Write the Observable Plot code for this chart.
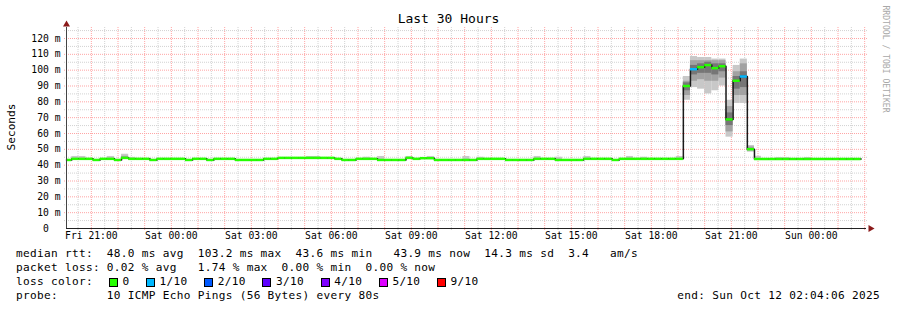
<!DOCTYPE html>
<html><head><meta charset="utf-8">
<script src="https://cdn.jsdelivr.net/npm/d3@7"></script>
<script src="https://cdn.jsdelivr.net/npm/@observablehq/plot@0.6"></script>
<style>
html,body{margin:0;padding:0;background:#fff;}
#wrap{position:relative;width:897px;height:310px;overflow:hidden;font-family:"DejaVu Sans Mono",monospace;color:#000;background:#fff;}
#wrap svg{position:absolute;left:0;top:0;}
.t{position:absolute;white-space:pre;}
.row{font-size:11.1px;letter-spacing:0.31px;line-height:14px;}
.box{position:absolute;width:7px;height:7px;border:1px solid #000;}
</style></head><body><div id="wrap"></div>
<script>
// ---- time frame (minutes since Fri Oct 10 00:00) ----
const startMin = 20 * 60 + 4 + 6 / 60;      // Fri 20:04:06
const endMin = startMin + 30 * 60;          // Sun 02:04:06
const binStartMin = 20 * 60;                // first consolidated bin Fri 20:00
const binMinutes = 16;

// ---- median RTT per bin (ms) ----
const median = [
  43.3,44.0,44.0,44.0,43.3,44.0,44.0,43.3,44.6,44.0,
  44.0,44.0,43.3,44.0,44.0,44.0,44.0,43.3,44.0,44.0,
  43.3,44.0,44.0,44.0,43.3,43.3,43.3,43.3,44.0,44.0,
  44.6,44.6,44.6,44.6,44.6,44.6,44.6,44.6,44.0,43.3,
  43.3,44.0,44.0,44.0,43.3,43.3,43.3,43.3,44.6,44.0,
  44.4,44.4,43.3,43.3,43.3,43.3,43.3,43.3,44.0,44.0,
  44.0,44.0,43.3,43.3,43.3,43.3,44.0,44.0,44.0,43.3,
  43.3,43.3,43.3,44.0,44.0,44.0,44.0,43.3,44.0,44.0,
  44.0,44.0,44.0,44.0,44.0,44.0,44.0,90.0,100.6,101.9,
  103.2,101.3,102.5,68.9,93.3,96.0,50.1,43.9,43.9,43.9,
  43.9,43.9,43.9,43.9,43.9,43.9,43.9,43.9,43.9,43.9,
  43.9,43.9
];

// ---- packet loss per bin (index into loss legend) ----
const lossBin = [88, 95];
const lossLevel = [1, 1];

// ---- smoke (spread of the 10 pings), light / mid / dark ----
const smokeBin = [1,2,6,8,9,34,35,42,44,48,51,56,58,66,69,73,79,81,86,87,88,89,90,91,92,93,94,95,96,97,100,101,104];
const smokeLo  = [44.0,44.0,44.0,44.6,44.0,44.6,44.6,44.0,43.3,44.6,44.4,43.3,44.0,44.0,43.3,44.0,44.0,44.0,44.0,81,89,88,85,87,90,57.7,79,79,48.2,43.9,43.9,43.9,43.9];
const smokeHi  = [45.5,45.5,45.5,46.9,44.9,45.5,45.5,45.0,45.5,45.5,45.5,45.5,45.0,45.5,45.0,45.5,45.5,45.0,45.5,96,108.6,108,108,107,107,81,103,107,52.4,45.6,44.8,44.8,44.8];
const midBin = [8,87,88,89,90,91,92,93,94,95,96];
const midLo  = [44.6,84,93,94,93,93,95,61,84,84,49];
const midHi  = [45.6,93,106,106,106,106,106,77,99,104,51.5];
const coreBin = [87,88,89,90,91,92,93,94,95];
const coreLo  = [87,97,98,98,97,99,65,88,89];
const coreHi  = [92,103,104,105,104,104,73,96,99];

// ---- axes ----
const yMax = 126.95;
const yTicks = [0,10,20,30,40,50,60,70,80,90,100,110,120];
const yTickLabels = ["0\u00a0\u00a0","10 m","20 m","30 m","40 m","50 m","60 m","70 m","80 m","90 m","100 m","110 m","120 m"];
const xTicks = [1260,1440,1620,1800,1980,2160,2340,2520,2700,2880];
const xTickLabels = ["Fri 21:00","Sat 00:00","Sat 03:00","Sat 06:00","Sat 09:00","Sat 12:00","Sat 15:00","Sat 18:00","Sat 21:00","Sun 00:00"];

// ---- legend ----
const lossLabels = ["0","1/10","2/10","3/10","4/10","5/10","9/10"];
const lossColors = ["#26ff00","#00b8ff","#0059ff","#5e00ff","#7e00ff","#dd00ff","#ff0000"];
const titleText = "Last 30 Hours";
const yLabel = "Seconds";
const watermark = "RRDTOOL / TOBI OETIKER";
const rowRtt   = "median rtt:  48.0 ms avg  103.2 ms max  43.6 ms min   43.9 ms now  14.3 ms sd  3.4   am/s";
const rowLoss  = "packet loss: 0.02 % avg   1.74 % max  0.00 % min  0.00 % now";
const rowColor = "loss color:";
const rowProbe = "probe:       10 ICMP Echo Pings (56 Bytes) every 80s";
const rowEnd   = "end: Sun Oct 12 02:04:06 2025";

// ---- derived tables ----
const bStart = k => Math.max(binStartMin + k * binMinutes, startMin);
const bEnd = k => binStartMin + (k + 1) * binMinutes;
const bins = median.map((m, k) => {
  const li = lossBin.indexOf(k);
  return {k, t0: bStart(k), t1: bEnd(k), m, color: lossColors[li < 0 ? 0 : lossLevel[li]]};
});
const stepPts = bins.map(d => ({t: d.t0, m: d.m})).concat([{t: bins[bins.length-1].t1, m: bins[bins.length-1].m}]);
const band = (ks, lo, hi) => ks.map((k, i) => ({t0: bStart(k), t1: bEnd(k), lo: lo[i], hi: hi[i]}));
const smoke = band(smokeBin, smokeLo, smokeHi);
const mid = band(midBin, midLo, midHi);
const core = band(coreBin, coreLo, coreHi);

const minorX = d3.range(1230, endMin, 60);
const majorX = d3.range(1260, endMin, 60);
const minorY = d3.range(5, yMax, 10);
const majorY = d3.range(10, yMax, 10);

const chart = Plot.plot({
  width: 897, height: 310,
  marginLeft: 64, marginRight: 29, marginTop: 27, marginBottom: 80,
  style: {fontFamily: "DejaVu Sans Mono", background: "transparent", overflow: "visible"},
  x: {domain: [startMin, endMin], range: [66, 866], axis: null},
  y: {domain: [0, yMax], range: [228, 27], axis: null},
  marks: [
    Plot.ruleX(minorX, {stroke: "#d2d2d2", strokeDasharray: "1,1"}),
    Plot.ruleY(minorY, {stroke: "#d2d2d2", strokeDasharray: "1,1"}),
    Plot.ruleX(majorX, {stroke: "#ffa5a5", strokeDasharray: "1,1"}),
    Plot.ruleY(majorY, {stroke: "#ffa5a5", strokeDasharray: "1,1"}),
    Plot.rect(smoke, {x1: "t0", x2: "t1", y1: "lo", y2: "hi", fill: "#c8c8c8"}),
    Plot.rect(mid, {x1: "t0", x2: "t1", y1: "lo", y2: "hi", fill: "#a2a2a2"}),
    Plot.rect(core, {x1: "t0", x2: "t1", y1: "lo", y2: "hi", fill: "#767676"}),
    Plot.line(stepPts, {x: "t", y: "m", curve: "step-after", stroke: "#1a1a1a", strokeWidth: 1.5}),
    Plot.ruleY(bins, {x1: "t0", x2: "t1", y: "m", stroke: "color", strokeWidth: 2.5}),
    Plot.ruleY([0], {x1: startMin, x2: endMin, stroke: "#222"}),
    Plot.ruleX([startMin], {y1: 0, y2: yMax, stroke: "#444"}),
    Plot.dot([0], {x: endMin, y: 0, symbol: "triangle", rotate: 90, r: 2.6, dx: 4, fill: "#8b1a1a", stroke: "none"}),
    Plot.dot([0], {x: startMin, y: yMax, symbol: "triangle", r: 2.6, dy: -3, fill: "#8b1a1a", stroke: "none"}),
    Plot.text(yTicks, {y: d => d, text: (d, i) => yTickLabels[i], frameAnchor: "left", textAnchor: "end", dx: -4, fontSize: 9.7, fill: "#000"}),
    Plot.text(xTicks, {x: d => d, text: (d, i) => xTickLabels[i], frameAnchor: "bottom", dy: 8, fontSize: 9.7, fill: "#000"})
  ]
});
const wrap = document.getElementById("wrap");
wrap.appendChild(chart);

function addDiv(text, cls, css) {
  const d = document.createElement("div");
  d.className = cls; d.textContent = text;
  Object.assign(d.style, css);
  wrap.appendChild(d);
  return d;
}
addDiv(titleText, "t", {left: "0px", width: "897px", textAlign: "center", top: "11px", fontSize: "13px", lineHeight: "16px"});
addDiv(yLabel, "t", {left: "11px", top: "127px", fontSize: "11.1px", transform: "translate(-50%,-50%) rotate(-90deg)"});
addDiv(watermark, "t", {left: "886px", top: "59px", fontSize: "8.1px", color: "#a8a8a8", transform: "translate(-50%,-50%) rotate(90deg)"});
addDiv(rowRtt, "t row", {left: "16px", top: "247px"});
addDiv(rowLoss, "t row", {left: "16px", top: "261px"});
addDiv(rowColor, "t row", {left: "16px", top: "275px"});
addDiv(rowProbe, "t row", {left: "16px", top: "289px"});
addDiv(rowEnd, "t row", {right: "17px", top: "289px"});
let bx = 108.7;
lossLabels.forEach((lab, i) => {
  const b = document.createElement("div");
  b.className = "box";
  Object.assign(b.style, {left: bx + "px", top: "278px", background: lossColors[i]});
  wrap.appendChild(b);
  addDiv(lab, "t row", {left: (bx + 13.7) + "px", top: "275px"});
  bx += lab.length * 7 + 30.2;
});
</script></body></html>
